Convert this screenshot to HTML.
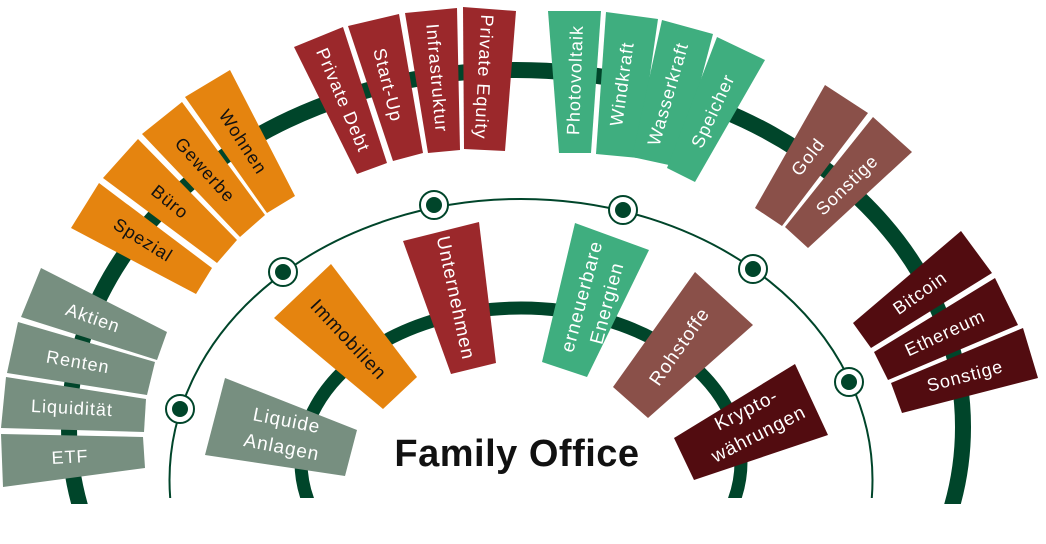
<!DOCTYPE html>
<html><head><meta charset="utf-8"><style>
html,body{margin:0;padding:0;background:#fff;overflow:hidden;width:1046px;height:544px;}
svg{display:block;}
text{font-family:"Liberation Sans",sans-serif;font-size:18px;letter-spacing:1px;fill:#fff;}
.k{fill:#111;}
.i{font-size:19px;}
</style></head><body>
<svg width="1046" height="544" viewBox="0 0 1046 544" xmlns="http://www.w3.org/2000/svg">
<defs>
<clipPath id="c1"><rect x="0" y="0" width="1046" height="504"/></clipPath>
<clipPath id="c2"><rect x="0" y="0" width="1046" height="498"/></clipPath>
</defs>
<ellipse cx="516" cy="427" rx="447" ry="357" fill="none" stroke="#00452A" stroke-width="16" clip-path="url(#c1)"/>
<ellipse cx="521" cy="480" rx="351.5" ry="281" fill="none" stroke="#00452A" stroke-width="2" clip-path="url(#c2)"/>
<ellipse cx="521" cy="462" rx="220" ry="154" fill="none" stroke="#00452A" stroke-width="13" clip-path="url(#c2)"/>

<g fill="#E5840F">
<polygon points="185,97 230,70 295,196 267,213"/>
<polygon points="142,134 182,102 265,215 240,237"/>
<polygon points="103,178 138,139 237,240 217,263"/>
<polygon points="71,228 99,183 212,268 196,294"/>
<polygon points="274,318 331,264 417,377 383,409"/>
</g>
<text class="k" transform="translate(243,142) rotate(57)" text-anchor="middle" dominant-baseline="central">Wohnen</text>
<text class="k" transform="translate(205,170) rotate(48)" text-anchor="middle" dominant-baseline="central">Gewerbe</text>
<text class="k" transform="translate(170,202) rotate(39)" text-anchor="middle" dominant-baseline="central">Büro</text>
<text class="k" transform="translate(143,240) rotate(32)" text-anchor="middle" dominant-baseline="central">Spezial</text>
<text class="k i" transform="translate(348,340) rotate(47)" text-anchor="middle" dominant-baseline="central">Immobilien</text>

<g fill="#778F80">
<polygon points="21,317 41,268 167,332 157,360"/>
<polygon points="7,373 18,322 155,362 147,395"/>
<polygon points="1,428 6,377 146,399 144,432"/>
<polygon points="3,487 1,434 143,437 145,468"/>
<polygon points="225,378 357,430 345,476 205,455"/>
</g>
<text transform="translate(93,318) rotate(19)" text-anchor="middle" dominant-baseline="central">Aktien</text>
<text transform="translate(78,362) rotate(10)" text-anchor="middle" dominant-baseline="central">Renten</text>
<text transform="translate(72,408) rotate(3)" text-anchor="middle" dominant-baseline="central">Liquidität</text>
<text transform="translate(70,457) rotate(-3)" text-anchor="middle" dominant-baseline="central">ETF</text>
<g transform="translate(284,435) rotate(11)">
<text class="i" y="-14" text-anchor="middle" dominant-baseline="central">Liquide</text>
<text class="i" y="13" text-anchor="middle" dominant-baseline="central">Anlagen</text>
</g>

<g fill="#9B282B">
<polygon points="294,47 343,27 387,163 357,174"/>
<polygon points="348,26 399,14 423,153 393,161"/>
<polygon points="405,13 457,8 460,150 428,153"/>
<polygon points="463,7 516,11 505,151 464,149"/>
<polygon points="403,241 479,222 496,363 451,374"/>
</g>
<text transform="translate(343,100) rotate(67)" text-anchor="middle" dominant-baseline="central">Private Debt</text>
<text transform="translate(388,85) rotate(76)" text-anchor="middle" dominant-baseline="central">Start-Up</text>
<text transform="translate(437,78) rotate(85)" text-anchor="middle" dominant-baseline="central">Infrastruktur</text>
<text transform="translate(484,77) rotate(93)" text-anchor="middle" dominant-baseline="central">Private Equity</text>
<text class="i" transform="translate(455,298) rotate(78)" text-anchor="middle" dominant-baseline="central">Unternehmen</text>

<g fill="#3FAE7F">
<polygon points="548,11 601,11 591,153 559,153"/>
<polygon points="606,12 658,19 638,158 596,154"/>
<polygon points="662,20 713,34 678,167 632,157"/>
<polygon points="717,37 765,60 695,182 667,168"/>
<polygon points="575,223 649,250 587,377 542,362"/>
</g>
<text transform="translate(575,80) rotate(-88)" text-anchor="middle" dominant-baseline="central">Photovoltaik</text>
<text transform="translate(622,84) rotate(-82)" text-anchor="middle" dominant-baseline="central">Windkraft</text>
<text transform="translate(668,94) rotate(-74)" text-anchor="middle" dominant-baseline="central">Wasserkraft</text>
<text transform="translate(713,111) rotate(-65)" text-anchor="middle" dominant-baseline="central">Speicher</text>
<g transform="translate(595,300) rotate(-75)">
<text class="i" y="-13" text-anchor="middle" dominant-baseline="central">erneuerbare</text>
<text class="i" y="13" text-anchor="middle" dominant-baseline="central">Energien</text>
</g>

<g fill="#8A5049">
<polygon points="755,208 825,85 868,113 782,226"/>
<polygon points="785,227 873,117 912,152 808,248"/>
<polygon points="613,387 695,272 753,325 648,418"/>
</g>
<text transform="translate(808,157) rotate(-52)" text-anchor="middle" dominant-baseline="central">Gold</text>
<text transform="translate(847,185) rotate(-44)" text-anchor="middle" dominant-baseline="central">Sonstige</text>
<text class="i" transform="translate(680,347) rotate(-55)" text-anchor="middle" dominant-baseline="central">Rohstoffe</text>

<g fill="#520C10">
<polygon points="853,323 961,231 992,273 871,348"/>
<polygon points="874,352 995,278 1018,325 888,380"/>
<polygon points="891,383 1023,328 1038,378 902,413"/>
<polygon points="674,438 795,364 828,435 694,480"/>
</g>
<text transform="translate(920,293) rotate(-35)" text-anchor="middle" dominant-baseline="central">Bitcoin</text>
<text transform="translate(945,333) rotate(-25)" text-anchor="middle" dominant-baseline="central">Ethereum</text>
<text transform="translate(965,376) rotate(-15)" text-anchor="middle" dominant-baseline="central">Sonstige</text>
<g transform="translate(753,423) rotate(-27)">
<text class="i" y="-14" text-anchor="middle" dominant-baseline="central">Krypto-</text>
<text class="i" y="13" text-anchor="middle" dominant-baseline="central">währungen</text>
</g>

<g fill="#fff" stroke="#00452A" stroke-width="2">
<circle cx="180" cy="409" r="14"/>
<circle cx="283" cy="272" r="14"/>
<circle cx="434" cy="205" r="14"/>
<circle cx="623" cy="210" r="14"/>
<circle cx="753" cy="269" r="14"/>
<circle cx="849" cy="382" r="14"/>
</g>
<g fill="#00452A">
<circle cx="180" cy="409" r="8"/>
<circle cx="283" cy="272" r="8"/>
<circle cx="434" cy="205" r="8"/>
<circle cx="623" cy="210" r="8"/>
<circle cx="753" cy="269" r="8"/>
<circle cx="849" cy="382" r="8"/>
</g>

<text x="517" y="466" text-anchor="middle" style="font-size:38px;font-weight:bold;letter-spacing:0.5px;fill:#111">Family Office</text>
</svg>
</body></html>
